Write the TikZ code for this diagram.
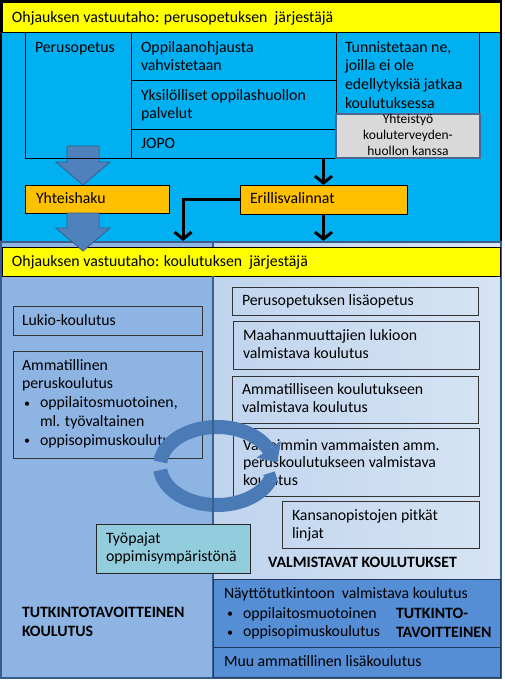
\documentclass[tikz,border=0pt]{standalone}
\usepackage{fontspec}
\setmainfont{Carlito}
\usetikzlibrary{fit,arrows.meta}
\definecolor{topblue}{HTML}{00B0F0}
\definecolor{hdryellow}{HTML}{FFFF00}
\definecolor{orangebox}{HTML}{FFC000}
\definecolor{leftpanel}{HTML}{8EB4E3}
\definecolor{rightA}{HTML}{C0D4EE}
\definecolor{rightB}{HTML}{D6E4F4}
\definecolor{darkpanel}{HTML}{558ED5}
\definecolor{framebl}{HTML}{385D8A}
\definecolor{divider}{HTML}{3A5F8B}
\definecolor{navyline}{HTML}{1F3A5F}
\definecolor{arrowbl}{HTML}{4F81BD}
\definecolor{circbl}{HTML}{4A7BB7}
\definecolor{tealbox}{HTML}{93CDDD}
\definecolor{greybox}{HTML}{D9D9D9}
\definecolor{greyedge}{HTML}{4A6890}
\newcommand{\blt}{\makebox[16pt][l]{\raisebox{0.6pt}{\fontsize{12}{12}\selectfont •}}}
\begin{document}
\begin{tikzpicture}[x=1pt,y=-1pt,
  every node/.style={inner sep=0pt,outer sep=0pt},
  txt/.style={anchor=base west,align=left,font=\fontsize{15.8}{18.8}\selectfont},
  smalltxt/.style={anchor=base,align=center,font=\fontsize{13.5}{16}\selectfont},
  boldtxt/.style={anchor=base west,align=left,font=\fontsize{15.8}{19.5}\selectfont\bfseries},
  cell/.style={draw=black,line width=0.8pt},
  ybar/.style={draw=black,line width=1pt,fill=hdryellow},
  obox/.style={draw=black,line width=1pt,fill=orangebox},
  pbox/.style={draw=black!80,line width=0.9pt},
  blockarrow/.style={fill=arrowbl,draw=framebl,line width=0.8pt},
  flow/.style={line width=3pt,-{Straight Barb[length=7pt,width=17pt]}},
  circarrow/.style={line width=14pt,draw=circbl},
]
\useasboundingbox (0,0) rectangle (505,680);
% ---------- top section
\node[fit={(1,1) (501,242)},fill=topblue,draw=black,line width=2pt] (top) {};
\node[ybar,fit={(2,2) (500,32)}] (hdrA) {};
\node[txt] (thdrA) at (12,22) {Ohjauksen vastuutaho: perusopetuksen\ \ järjestäjä};
% block arrow 1
\draw[blockarrow] (67,146) -- (99,146) -- (99,162) -- (110,162) -- (83,185) -- (56,162) -- (67,162) -- cycle;
% table
\node[cell,fit={(25,32) (131,158)}] (perus) {};
\node[cell,fit={(131,32) (336,80)}] (ohj) {};
\node[cell,fit={(131,80) (336,129)}] (yks) {};
\node[cell,fit={(131,129) (336,158)}] (jopo) {};
\node[cell,fit={(336,32) (479,114)}] (tunn) {};
\node[fit={(336,114) (480,158)},fill=greybox,draw=greyedge,line width=2pt] (yht) {};
\node[txt] (tperus) at (35,52) {Perusopetus};
\node[txt] (tohj) at (141,70.8) {Oppilaanohjausta\\vahvistetaan};
\node[txt] (tyks) at (141,118.8) {Yksilölliset oppilashuollon\\palvelut};
\node[txt] (tjopo) at (141,148) {JOPO};
\node[txt] (ttunn) at (345,108.4) {Tunnistetaan ne,\\joilla ei ole\\edellytyksiä jatkaa\\koulutuksessa};
\node[smalltxt] (tyht) at (408,155) {Yhteistyö\\kouluterveyden-\\huollon kanssa};
% orange boxes
\node[obox,fit={(25,185) (169,213)}] (haku) {};
\node[txt] (thaku) at (36,203) {Yhteishaku};
\node[obox,fit={(240,185) (407,214)}] (eri) {};
\node[txt] (teri) at (250,203) {Erillisvalinnat};
\coordinate (c1) at (183,241);
\coordinate (c2) at (323.5,241);
\draw[flow] (eri.north |- jopo.south) -- (eri.north);
\draw[flow] (eri.west) -| (c1);
\draw[flow] (eri.south) -- (c2);
% ---------- bottom section
\node[fit={(2,243) (213,677)},fill=leftpanel] (lpanel) {};
\node[fit={(213,243) (500,579)},left color=rightA,right color=rightB] (rpanel) {};
\draw[framebl,line width=2pt] (1,242) rectangle (501,678);
\draw[line width=2.5pt,draw=divider] (lpanel.north east) -- (lpanel.south east);
\node[ybar,fit={(2,247) (500,276)}] (hdrB) {};
\node[txt] (thdrB) at (12,266) {Ohjauksen vastuutaho: koulutuksen\ \ järjestäjä};
% block arrow 2
\draw[blockarrow] (67,213) -- (99,213) -- (99,228) -- (110,228) -- (83,251) -- (56,228) -- (67,228) -- cycle;
% left boxes
\node[pbox,fit={(13,306) (202,335)}] (lukio) {};
\node[txt] (tlukio) at (22,325) {Lukio-koulutus};
\node[pbox,fit={(13,351) (202,458)}] (amm) {};
\node[txt] (tamm) at (22,445.2) {Ammatillinen\\peruskoulutus\\\hspace*{2pt}\blt oppilaitosmuotoinen,\\\hspace*{18pt}ml. työvaltainen\\\hspace*{2pt}\blt oppisopimuskoulutus};
% right boxes
\node[pbox,fit={(232,287) (478,315)}] (lisa) {};
\node[txt] (tlisa) at (242,305) {Perusopetuksen lisäopetus};
\node[pbox,fit={(233,321) (479,369)}] (maah) {};
\node[txt] (tmaah) at (243,358.8) {Maahanmuuttajien lukioon\\valmistava koulutus};
\node[pbox,fit={(232,376) (478,423)}] (ammval) {};
\node[txt] (tammval) at (242,412.8) {Ammatilliseen koulutukseen\\valmistava koulutus};
\node[pbox,fit={(233,428) (479,496)}] (vaik) {};
\node[txt,font=\fontsize{15.8}{17.6}\selectfont] (tvaik) at (243,485.2) {Vaikeimmin vammaisten amm.\\peruskoulutukseen valmistava\\koulutus};
\node[pbox,fit={(282,501) (479,548)}] (kans) {};
\node[txt] (tkans) at (292,538.8) {Kansanopistojen pitkät\\linjat};
% circular arrow (drawn as a shape)
\draw[circarrow] (217,466) ++(174:57 and 39) arc[start angle=174,end angle=20,x radius=57,y radius=39];
\fill[circbl] (278.5,483.5) -- (274.8,471.4) -- (262.7,475.1) -- cycle;
\draw[circarrow] (217,466) ++(186:57 and 39) arc[start angle=186,end angle=335,x radius=57,y radius=39];
\fill[circbl] (280.8,441.3) -- (277.3,462.3) -- (256.6,457.7) -- cycle;
% divider shows over the circular arrow
\draw[line width=2.5pt,draw=divider] (hdrB.south -| lpanel.east) -- (lpanel.south east);
\node[fit={(96,524) (250,573)},fill=tealbox,draw=black!85,line width=1pt] (tyop) {};
\node[txt] (ttyop) at (106,561.8) {Työpajat\\oppimisympäristönä};
\node[boldtxt] (tvalm) at (268,567) {VALMISTAVAT KOULUTUKSET};
\node[boldtxt] (ttutkL) at (22,636.5) {TUTKINTOTAVOITTEINEN\\KOULUTUS};
% dark area
\node[fit={(213,579) (500,647)},fill=darkpanel,draw=navyline,line width=1pt] (nay) {};
\node[fit={(213,647) (500,677)},fill=darkpanel,draw=navyline,line width=1pt] (muu) {};
\node[txt] (tnay) at (224,598) {Näyttötutkintoon\ \ valmistava koulutus};
\node[txt] (tnayb) at (227,636.8) {\blt oppilaitosmuotoinen\\\blt oppisopimuskoulutus};
\node[boldtxt] (ttutkR) at (396,637.5) {TUTKINTO-\\TAVOITTEINEN};
\node[txt] (tmuu) at (224,666) {Muu ammatillinen lisäkoulutus};
\end{tikzpicture}
\end{document}
